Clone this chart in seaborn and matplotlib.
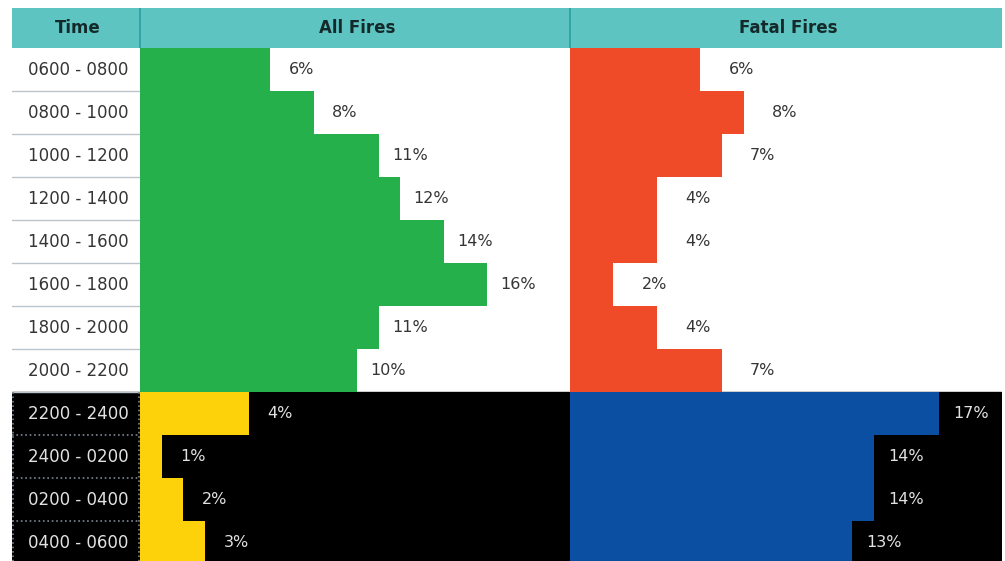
import pandas as pd
import matplotlib.pyplot as plt
import seaborn as sns

# Data
times = ['0600 - 0800', '0800 - 1000', '1000 - 1200', '1200 - 1400',
         '1400 - 1600', '1600 - 1800', '1800 - 2000', '2000 - 2200',
         '2200 - 2400', '2400 - 0200', '0200 - 0400', '0400 - 0600']
# bar lengths as drawn (the 4% yellow bar is drawn at about 5%)
all_fires = [6, 8, 11, 12, 14, 16, 11, 10, 5, 1, 2, 3]
all_labels = ['6%', '8%', '11%', '12%', '14%', '16%', '11%', '10%',
              '4%', '1%', '2%', '3%']
fatal_fires = [6, 8, 7, 4, 4, 2, 4, 7, 17, 14, 14, 13]
fatal_labels = ['6%', '8%', '7%', '4%', '4%', '2%', '4%', '7%',
                '17%', '14%', '14%', '13%']
headers = ['Time', 'All Fires', 'Fatal Fires']

df = pd.DataFrame({'Time': times, 'All': all_fires, 'Fatal': fatal_fires})

sns.set_theme(style='white')
plt.rcParams['font.family'] = ['DejaVu Sans']

W, H = 1005, 561
fig = plt.figure(figsize=(W / 100, H / 100), dpi=100)


def frame(x0, x1, y0, y1):
    # pixel box -> figure fraction
    return [x0 / W, 1 - y1 / H, (x1 - x0) / W, (y1 - y0) / H]


top, row_h = 48, 43
bottom = top + row_h * len(times)
n_day = 8  # rows on white background
PX = 21.7  # pixels per percent

teal = '#5ec4c2'
dark_text = '#353535'
night_text = '#e2e2e2'

# header band
hax = fig.add_axes(frame(12, 1002, 8, 48))
hax.set_facecolor(teal)
hax.set_xlim(12, 1002)
hax.set_ylim(0, 1)
for xc, lab in zip([78, 357, 788], headers):
    hax.text(xc, 0.5, lab, ha='center', va='center', fontsize=12,
             fontweight='bold', color='#142a2a')
for xs in [140, 570]:
    hax.axvline(xs, color='#2a9fa0', lw=1.2)
hax.set_xticks([])
hax.set_yticks([])
for s in hax.spines.values():
    s.set_visible(False)

# time column
tax = fig.add_axes(frame(12, 140, top, bottom))
tax.set_xlim(0, 1)
tax.set_ylim(len(times) - 0.5, -0.5)
tax.axhspan(n_day - 0.5, len(times) - 0.5, color='black', zorder=0)
for i, t in enumerate(times):
    tax.text(0.515, i, t, ha='center', va='center', fontsize=12,
             color=dark_text if i < n_day else night_text)
for i in range(1, len(times)):
    if i <= n_day:
        tax.axhline(i - 0.5, color='#b9c4cc', lw=1)
    else:
        tax.axhline(i - 0.5, color='#7d8794', lw=1.2, ls=':')
tax.vlines([0.005, 0.995], n_day - 0.5, len(times) - 0.5, color='#7d8794',
           lw=1.2, ls=':')
tax.axis('off')


def bar_column(ax, col, labels, day_color, night_color, width_px, offsets):
    pal = [day_color] * n_day + [night_color] * (len(times) - n_day)
    ax.axhspan(n_day - 0.5, len(times) - 0.5, color='black', zorder=0)
    sns.barplot(data=df, x=col, y='Time', hue='Time', palette=pal,
                orient='h', width=1.0, saturation=1, linewidth=0,
                legend=False, ax=ax, zorder=2)
    for i, (v, lab) in enumerate(zip(df[col], labels)):
        off = offsets[0] if len(lab) == 2 else offsets[1]
        ax.annotate(lab, (v, i), xytext=(off, 0),
                    textcoords='offset pixels', ha='center', va='center',
                    fontsize=11.5, color=dark_text if i < n_day else night_text)
    ax.set_xlim(0, width_px / PX)
    ax.set_ylim(len(times) - 0.5, -0.5)
    ax.axis('off')


ax1 = fig.add_axes(frame(140, 570, top, bottom))
bar_column(ax1, 'All', all_labels, '#25b04b', '#fdd20b', 430, (31, 31))

ax2 = fig.add_axes(frame(570, 1002, top, bottom))
bar_column(ax2, 'Fatal', fatal_labels, '#ef4b28', '#0b4fa3', 432, (41, 32))

fig.savefig('out.png', dpi=100, facecolor='white')
